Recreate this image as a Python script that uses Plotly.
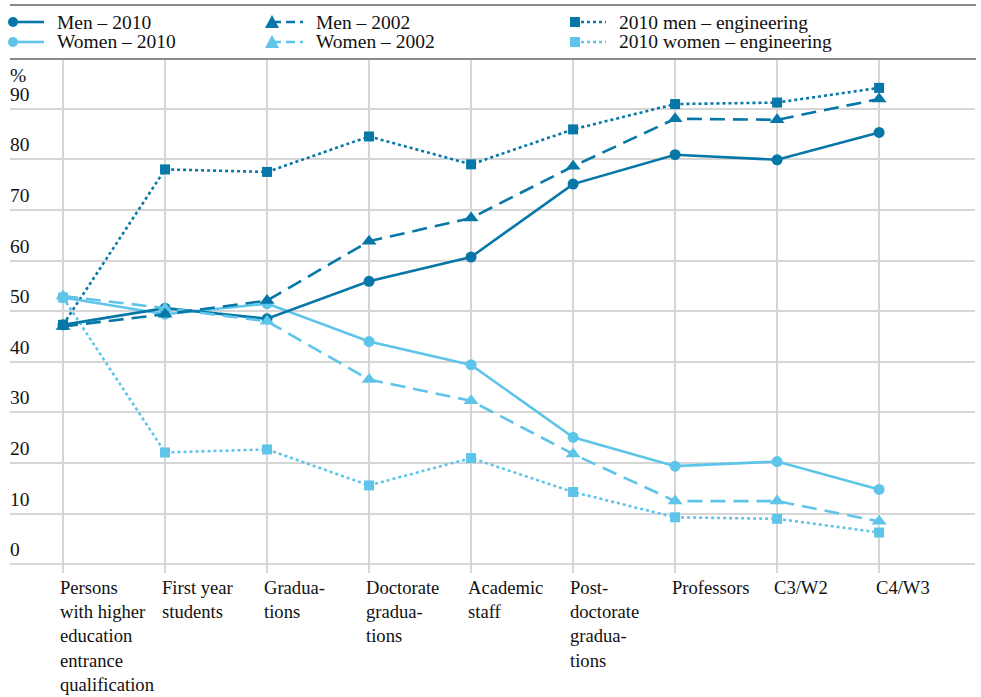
import plotly.graph_objects as go

# ---------------- data ----------------
categories = ["Persons", "First year", "Graduations", "Doctorate", "Academic",
              "Postdoc", "Professors", "C3/W2", "C4/W3"]
category_labels = ["Persons<br>with higher<br>education<br>entrance<br>qualification",
                   "First year<br>students", "Gradua-<br>tions",
                   "Doctorate<br>gradua-<br>tions", "Academic<br>staff",
                   "Post-<br>doctorate<br>gradua-<br>tions", "Professors",
                   "C3/W2", "C4/W3"]

men_2010 = [47.3, 50.6, 48.5, 55.9, 60.7, 75.1, 80.9, 79.9, 85.3]
women_2010 = [52.7, 49.4, 51.5, 44.0, 39.4, 25.1, 19.4, 20.3, 14.8]
men_2002 = [47.0, 49.4, 52.1, 63.8, 68.4, 78.6, 88.0, 87.8, 91.9]
women_2002 = [53.0, 50.6, 48.0, 36.5, 32.3, 21.8, 12.5, 12.5, 8.5]
men_eng_2010 = [47.3, 78.0, 77.5, 84.5, 79.0, 85.9, 90.9, 91.2, 94.1]
women_eng_2010 = [52.7, 22.1, 22.7, 15.6, 21.0, 14.3, 9.3, 9.0, 6.3]

y_ticks = [0, 10, 20, 30, 40, 50, 60, 70, 80, 90]
y_tick_labels = ["0", "10", "20", "30", "40", "50", "60", "70", "80", "90"]
y_unit = "%"

# ---------------- styles ----------------
DARK = "#0677a7"
LIGHT = "#5ec4ea"
GRID = "#d6d6d6"
TEXT = "#111111"
FONT = "Liberation Serif"
FS = 19.5
FS_X = 18.6

series = [
    # name, values, color, dash, symbol, size
    ("Men – 2010", men_2010, DARK, "solid", "circle", 11),
    ("Women – 2010", women_2010, LIGHT, "solid", "circle", 11),
    ("Men – 2002", men_2002, DARK, "15px,8px", "triangle-up", 13),
    ("Women – 2002", women_2002, LIGHT, "15px,8px", "triangle-up", 13),
    ("2010 men – engineering", men_eng_2010, DARK, "3px,3px", "square", 10),
    ("2010 women – engineering", women_eng_2010, LIGHT, "3px,3px", "square", 10),
]
draw_order = [5, 4, 1, 0, 3, 2]

W, H = 981, 697
L, R, T, B = 10, 6, 59, 124
PW, PH = W - L - R, H - T - B


def px2x(px):
    return (px - L) / PW


def py2y(py):
    return (H - B - py) / PH


fig = go.Figure()
for i in draw_order:
    name, vals, color, dash, symbol, size = series[i]
    fig.add_trace(go.Scatter(
        x=categories, y=vals, name=name, mode="lines+markers",
        line=dict(color=color, width=2.6, dash=dash),
        marker=dict(symbol=symbol, size=size, color=color, line=dict(width=0)),
        showlegend=False,
    ))

shapes = []
annotations = []

# legend separator lines
for py in (5, 59):
    shapes.append(dict(type="line", xref="paper", yref="paper",
                       x0=px2x(10), x1=px2x(976), y0=py2y(py), y1=py2y(py),
                       line=dict(color="#8a8a8a", width=2)))

# manual legend (3 columns x 2 rows)
col_x = [13, 272, 575]
row_y = [22, 42]
for idx, (name, vals, color, dash, symbol, size) in enumerate(series):
    c, r = idx // 2, idx % 2
    mx, my = col_x[c], row_y[r]
    shapes.append(dict(type="line", xref="paper", yref="paper",
                       x0=px2x(mx), x1=px2x(mx + 31), y0=py2y(my), y1=py2y(my),
                       line=dict(color=color, width=2.6,
                                 dash=("9px,5px" if "15px" in dash else dash))))
    if symbol == "circle":
        rr = 5
        shapes.append(dict(type="circle", xref="paper", yref="paper",
                           x0=px2x(mx - rr), x1=px2x(mx + rr),
                           y0=py2y(my + rr), y1=py2y(my - rr),
                           fillcolor=color, line=dict(width=0)))
    elif symbol == "square":
        rr = 5
        shapes.append(dict(type="rect", xref="paper", yref="paper",
                           x0=px2x(mx - rr), x1=px2x(mx + rr),
                           y0=py2y(my + rr), y1=py2y(my - rr),
                           fillcolor=color, line=dict(width=0)))
    else:
        path = "M {} {} L {} {} L {} {} Z".format(
            px2x(mx - 7), py2y(my + 6), px2x(mx + 7), py2y(my + 6),
            px2x(mx), py2y(my - 7))
        shapes.append(dict(type="path", xref="paper", yref="paper", path=path,
                           fillcolor=color, line=dict(width=0)))
    annotations.append(dict(xref="paper", yref="paper", x=px2x(col_x[c] + 42),
                            y=py2y(my), xanchor="left", yanchor="middle",
                            text=name, showarrow=False,
                            font=dict(family=FONT, size=FS, color=TEXT)))

# x category labels (left aligned at category positions)
for cat, lab in zip(categories, category_labels):
    annotations.append(dict(x=cat, xref="x", y=0, yref="paper", text=lab,
                            xanchor="left", yanchor="top", align="left",
                            showarrow=False, xshift=-5, yshift=-2,
                            font=dict(family=FONT, size=FS_X, color=TEXT)))

# y tick labels sitting on top of their gridlines
for v, lab in zip(y_ticks, y_tick_labels):
    annotations.append(dict(x=px2x(8), xref="paper", y=v, yref="y", text=lab,
                            xanchor="left", yanchor="bottom", showarrow=False,
                            yshift=2,
                            font=dict(family=FONT, size=FS, color=TEXT)))

# unit label
annotations.append(dict(xref="paper", yref="paper", x=px2x(8), y=py2y(75),
                        xanchor="left", yanchor="middle", text=y_unit,
                        showarrow=False,
                        font=dict(family=FONT, size=FS, color=TEXT)))

fig.update_layout(
    width=W, height=H,
    margin=dict(l=L, r=R, t=T, b=B),
    paper_bgcolor="white", plot_bgcolor="white",
    font=dict(family=FONT, size=FS, color=TEXT),
    shapes=shapes, annotations=annotations,
    xaxis=dict(type="category", categoryorder="array", categoryarray=categories,
               range=[-0.52, 8.94], showgrid=True, gridcolor=GRID, gridwidth=1.5,
               showticklabels=False, ticks="", showline=False, zeroline=False),
    yaxis=dict(range=[-1.7, 99.8], tickvals=y_ticks,
               showgrid=True, gridcolor=GRID, gridwidth=2,
               showticklabels=False, ticks="", showline=False, zeroline=False),
)

fig.write_html("out.html", config={"displayModeBar": False},
               post_script="document.body.style.margin='0px';")
